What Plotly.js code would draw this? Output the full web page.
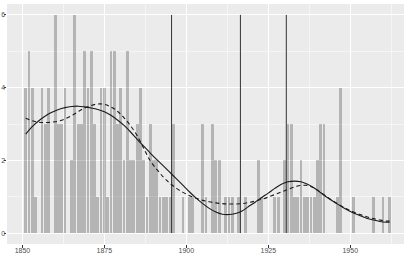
<!DOCTYPE html>
<html>
<head>
<meta charset="utf-8">
<script src="https://cdn.plot.ly/plotly-3.0.1.min.js"></script>
<style>html,body{margin:0;padding:0;background:#fff;}#chart{width:407px;height:255px;}</style>
</head>
<body>
<div id="chart"></div>
<script>
const years = [1851,1852,1853,1854,1855,1856,1857,1858,1859,1860,
1861,1862,1863,1864,1865,1866,1867,1868,1869,1870,
1871,1872,1873,1874,1875,1876,1877,1878,1879,1880,
1881,1882,1883,1884,1885,1886,1887,1888,1889,1890,
1891,1892,1893,1894,1895,1896,1897,1898,1899,1900,
1901,1902,1903,1904,1905,1906,1907,1908,1909,1910,
1911,1912,1913,1914,1915,1916,1917,1918,1919,1920,
1921,1922,1923,1924,1925,1926,1927,1928,1929,1930,
1931,1932,1933,1934,1935,1936,1937,1938,1939,1940,
1941,1942,1943,1944,1945,1946,1947,1948,1949,1950,
1951,1952,1953,1954,1955,1956,1957,1958,1959,1960,
1961,1962];
const counts = [4,5,4,1,0,4,3,4,0,6,
3,3,4,0,2,6,3,3,5,4,
5,3,1,4,4,1,5,5,3,4,
2,5,2,2,3,4,2,1,3,2,
2,1,1,1,1,3,0,0,1,0,
1,1,0,0,3,1,0,3,2,2,
0,1,1,1,0,1,0,1,0,0,
0,2,1,0,0,0,1,1,0,2,
3,3,1,1,2,1,1,1,1,2,
3,3,0,0,0,1,4,0,0,0,
1,0,0,0,0,0,1,0,0,1,
0,1];
const curveYears = [1851,1853,1855,1857,1859,1861,1863,1865,1867,1869,
1871,1873,1875,1877,1879,1881,1883,1885,1887,1889,
1891,1893,1895,1897,1899,1901,1903,1905,1907,1909,
1911,1913,1915,1917,1919,1921,1923,1925,1927,1929,
1931,1933,1935,1937,1939,1941,1943,1945,1947,1949,
1951,1953,1955,1957,1959,1961,1962];
const solidFit = [2.72,2.93,3.09,3.22,3.32,3.40,3.45,3.48,3.49,3.47,
3.44,3.40,3.34,3.24,3.11,2.96,2.78,2.58,2.39,2.20,
2.02,1.85,1.67,1.49,1.31,1.13,0.96,0.81,0.68,0.58,
0.52,0.51,0.54,0.61,0.73,0.85,0.98,1.10,1.23,1.34,
1.41,1.43,1.41,1.34,1.24,1.11,0.98,0.86,0.75,0.64,
0.55,0.48,0.41,0.36,0.32,0.30,0.30];
const dashedFit = [3.16,3.09,3.05,3.04,3.05,3.08,3.14,3.23,3.34,3.44,
3.51,3.55,3.54,3.47,3.35,3.17,2.95,2.68,2.33,1.99,
1.75,1.54,1.37,1.23,1.12,1.03,0.96,0.90,0.86,0.83,
0.81,0.80,0.80,0.81,0.84,0.88,0.93,0.99,1.06,1.13,
1.20,1.27,1.31,1.31,1.24,1.12,0.99,0.87,0.76,0.66,
0.58,0.51,0.45,0.40,0.36,0.33,0.33];
const changePoints = [1895.5, 1916.5, 1930.5];
const segmentTop = 6;
const segmentBottom = 0;
const xTicks = [1850, 1875, 1900, 1925, 1950];
const yTicks = [0, 2, 4, 6];

const traces = [];
traces.push({
  type: 'bar', x: years, y: counts, width: 0.85,
  marker: {color: 'rgba(0,0,0,0.23)', line: {width: 0}},
  hoverinfo: 'skip', showlegend: false
});
changePoints.forEach(cp => {
  traces.push({
    type: 'scatter', mode: 'lines', x: [cp, cp], y: [segmentBottom, segmentTop],
    line: {color: '#333333', width: 1}, hoverinfo: 'skip', showlegend: false
  });
});
traces.push({
  type: 'scatter', mode: 'lines', x: curveYears, y: dashedFit,
  line: {color: '#1a1a1a', width: 1.1, dash: '4px,3px', shape: 'spline', smoothing: 1},
  hoverinfo: 'skip', showlegend: false
});
traces.push({
  type: 'scatter', mode: 'lines', x: curveYears, y: solidFit,
  line: {color: '#1a1a1a', width: 1.1, shape: 'spline', smoothing: 1},
  hoverinfo: 'skip', showlegend: false
});

const tickFont = {family: 'Liberation Sans, Arial, sans-serif', size: 7, color: '#4d4d4d'};
const layout = {
  width: 407, height: 255,
  margin: {l: 7, r: 3, t: 4, b: 11, pad: 0},
  paper_bgcolor: '#ffffff', plot_bgcolor: '#ebebeb',
  bargap: 0,
  xaxis: {
    range: [1845.3, 1966.4], tickvals: xTicks, ticktext: xTicks.map(String),
    ticks: 'outside', ticklen: 2.5, tickcolor: '#333333', tickwidth: 1,
    ticklabelstandoff: -3,
    tickfont: tickFont, showgrid: true, gridcolor: '#ffffff', gridwidth: 1.1,
    zeroline: false, showline: false,
    minor: {tick0: 1862.5, dtick: 25, showgrid: true, gridcolor: '#ffffff', gridwidth: 0.5, ticks: ''}
  },
  yaxis: {
    range: [-0.3, 6.3], tickvals: yTicks, ticktext: yTicks.map(String),
    ticks: 'outside', ticklen: 2.5, tickcolor: '#333333', tickwidth: 1,
    ticklabelstandoff: -3,
    tickfont: tickFont, showgrid: true, gridcolor: '#ffffff', gridwidth: 1.1,
    zeroline: false, showline: false,
    minor: {tick0: 1, dtick: 2, showgrid: true, gridcolor: '#ffffff', gridwidth: 0.5, ticks: ''}
  }
};
Plotly.newPlot('chart', traces, layout, {staticPlot: true, displayModeBar: false});
</script>
</body>
</html>
